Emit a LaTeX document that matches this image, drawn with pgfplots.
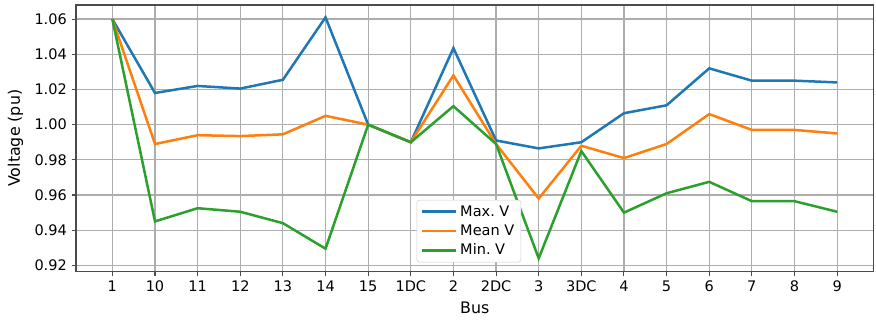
\documentclass[border=0pt]{standalone}
\usepackage{pgfplots}
\pgfplotsset{compat=1.18}
\usepackage{fontspec}
\setmainfont{DejaVu Sans}
\definecolor{c0}{HTML}{1F77B4}
\definecolor{c1}{HTML}{FF7F0E}
\definecolor{c2}{HTML}{2CA02C}
\begin{document}
\begin{tikzpicture}
\begin{axis}[
  scale only axis,
  width=604pt, height=201.8pt,
  xmin=-0.85, xmax=17.85,
  ymin=0.9166, ymax=1.068,
  xtick={0,...,17},
  xticklabels={1,10,11,12,13,14,15,1DC,2,2DC,3,3DC,4,5,6,7,8,9},
  ytick={0.92,0.94,0.96,0.98,1.00,1.02,1.04,1.06},
  xtick pos=left, ytick pos=left,
  yticklabel style={/pgf/number format/.cd,fixed,fixed zerofill,precision=2},
  /pgf/number format/assume math mode=true,
  ticklabel style={font=\fontsize{11}{13}\selectfont},
  label style={font=\fontsize{12}{14}\selectfont},
  xlabel={Bus}, ylabel={Voltage (pu)},
  ylabel style={inner ysep=6pt, yshift=-1pt},
  xlabel style={inner ysep=1.5pt, yshift=-2.5pt},
  grid=major,
  major grid style={draw=black!32, line width=0.9pt},
  axis line style={draw=black!70, line width=1.1pt},
  tick align=outside, major tick length=3.5pt,
  tick style={draw=black!70, line width=0.8pt},
  legend style={at={(0.427,0.034)}, anchor=south west, font=\fontsize{11}{13}\selectfont, draw=black!20, rounded corners=2pt, row sep=1pt},
  legend image code/.code={\draw[#1] (0pt,0pt) -- (26pt,0pt);},
  legend cell align=left,
  every axis plot/.append style={line width=1.9pt},
]
\addplot[c0] coordinates {(0,1.060)(1,1.018)(2,1.022)(3,1.0205)(4,1.0255)(5,1.061)(6,1.000)(7,0.990)(8,1.0435)(9,0.991)(10,0.9865)(11,0.990)(12,1.0065)(13,1.011)(14,1.032)(15,1.025)(16,1.025)(17,1.024)};
\addplot[c1] coordinates {(0,1.060)(1,0.989)(2,0.994)(3,0.9935)(4,0.9945)(5,1.005)(6,1.000)(7,0.990)(8,1.028)(9,0.989)(10,0.958)(11,0.988)(12,0.981)(13,0.989)(14,1.006)(15,0.997)(16,0.997)(17,0.995)};
\addplot[c2] coordinates {(0,1.060)(1,0.945)(2,0.9525)(3,0.9505)(4,0.944)(5,0.9295)(6,1.000)(7,0.990)(8,1.0105)(9,0.989)(10,0.924)(11,0.985)(12,0.950)(13,0.961)(14,0.9675)(15,0.9565)(16,0.9565)(17,0.9505)};
\legend{Max.~V, Mean V, Min.~V}
\end{axis}
\path (current axis.north east) ++(2pt,3.8pt);
\path (current axis.south west) ++(0,-40.5pt);
\end{tikzpicture}
\end{document}
